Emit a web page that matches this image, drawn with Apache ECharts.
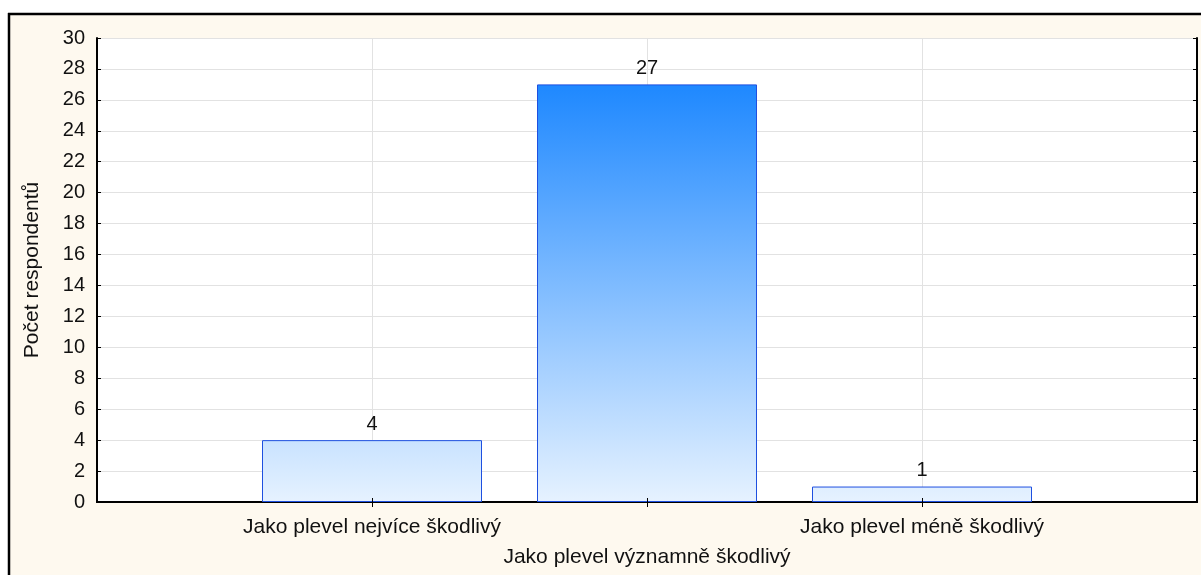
<!DOCTYPE html>
<html>
<head>
<meta charset="utf-8">
<script src="https://cdn.jsdelivr.net/npm/echarts@6/dist/echarts.min.js"></script>
<style>
  html, body { margin: 0; padding: 0; background: #ffffff; }
  #chart { width: 1201px; height: 575px; }
</style>
</head>
<body>
<div id="chart"></div>
<script>
// Response categories and respondent counts
const categories = ['Jako plevel nejvíce škodlivý', 'Jako plevel významně škodlivý', 'Jako plevel méně škodlivý'];
const counts = [4, 27, 1];
const yTicks = { min: 0, max: 30, step: 2 };
const yTitle = 'Počet respondentů';

// Empty slots on both ends give each bar a full band of space from the frame
const axisCats = [''].concat(categories, ['']);
const barData = ['-'].concat(counts, ['-']);

const FONT = '"Liberation Sans", Arial, sans-serif';
const innerIdx = (i) => i > 0 && i < axisCats.length - 1;
const plotBox = { left: 97, right: 4, top: 38, bottom: 73 };

const chart = echarts.init(document.getElementById('chart'), null, { renderer: 'canvas' });

function barGradient(yTop, yBottom) {
  return new echarts.graphic.LinearGradient(0, yTop, 0, yBottom, [
    { offset: 0, color: '#1E88FF' },
    { offset: 1, color: '#E6F2FF' }
  ], true);
}

const option = {
  animation: false,
  backgroundColor: '#FEF9EF',
  textStyle: { fontFamily: FONT },
  graphic: [
    { type: 'rect', silent: true, shape: { x: 0, y: 0, width: 1201, height: 13 }, style: { fill: '#ffffff' } },
    { type: 'rect', silent: true, shape: { x: 0, y: 0, width: 8, height: 575 }, style: { fill: '#ffffff' } },
    { type: 'line', silent: true, shape: { x1: 8, y1: 14, x2: 1201, y2: 14 }, style: { stroke: '#000', lineWidth: 2.5 } },
    { type: 'line', silent: true, shape: { x1: 9, y1: 13, x2: 9, y2: 575 }, style: { stroke: '#000', lineWidth: 2.5 } }
  ],
  grid: [
    Object.assign({ show: true, backgroundColor: '#ffffff', borderWidth: 0 }, plotBox),
    // overlay frame used only for the bottom tick marks drawn above the bars
    Object.assign({ show: false }, plotBox)
  ],
  xAxis: [
    {
      type: 'category', data: axisCats, boundaryGap: false, position: 'bottom',
      axisLine: { lineStyle: { color: '#000', width: 2 } },
      axisTick: { show: false },
      axisLabel: {
        interval: 0, color: '#111', fontSize: 21, fontFamily: FONT, margin: 10, lineHeight: 30,
        formatter: (v, i) => (i === 2 ? '\n' + v : v)
      },
      splitLine: { show: true, interval: (i) => innerIdx(i), lineStyle: { color: '#E2E2E2', width: 1 } }
    },
    {
      type: 'category', data: axisCats, boundaryGap: false, position: 'top',
      axisLine: { lineStyle: { color: '#000', width: 2 } },
      axisTick: { inside: true, length: 5, interval: (i) => innerIdx(i), lineStyle: { color: '#000' } },
      axisLabel: { show: false },
      splitLine: { show: false }
    },
    {
      type: 'category', gridIndex: 1, data: axisCats, boundaryGap: false, position: 'bottom', z: 5,
      axisLine: { show: false },
      axisTick: { inside: true, length: 4, interval: (i) => innerIdx(i), lineStyle: { color: '#000', width: 1 } },
      axisLabel: { show: false },
      splitLine: { show: false }
    }
  ],
  yAxis: [
    {
      type: 'value', min: yTicks.min, max: yTicks.max, interval: yTicks.step, position: 'left',
      name: yTitle, nameLocation: 'middle', nameGap: 54,
      nameTextStyle: { color: '#111', fontSize: 21, fontFamily: FONT },
      axisLine: { show: true, lineStyle: { color: '#000', width: 2 } },
      axisTick: { show: true, inside: true, length: 4, lineStyle: { color: '#000' } },
      axisLabel: { color: '#111', fontSize: 20, fontFamily: FONT, margin: 12 },
      splitLine: { show: true, lineStyle: { color: '#E2E2E2', width: 1 } }
    },
    {
      type: 'value', min: yTicks.min, max: yTicks.max, interval: yTicks.step, position: 'right',
      axisLine: { show: true, lineStyle: { color: '#000', width: 2 } },
      axisTick: { show: true, inside: true, length: 4, lineStyle: { color: '#000' } },
      axisLabel: { show: false },
      splitLine: { show: false }
    },
    {
      type: 'value', gridIndex: 1, min: yTicks.min, max: yTicks.max, show: false
    }
  ],
  series: [{
    type: 'bar',
    xAxisIndex: 0, yAxisIndex: 0,
    data: barData,
    barWidth: '80%',
    itemStyle: { color: '#6AAEFF', borderColor: '#1E50E0', borderWidth: 1 },
    label: {
      show: true, position: 'top', distance: 6,
      color: '#111', fontSize: 20, fontFamily: FONT
    }
  }]
};

chart.setOption(option);

// Shade the bars with one vertical gradient shared across the whole plot
const yTop = chart.convertToPixel({ yAxisIndex: 0 }, Math.max.apply(null, counts));
const yBottom = chart.convertToPixel({ yAxisIndex: 0 }, yTicks.min);
chart.setOption({ series: [{ itemStyle: { color: barGradient(yTop, yBottom) } }] });
</script>
</body>
</html>
